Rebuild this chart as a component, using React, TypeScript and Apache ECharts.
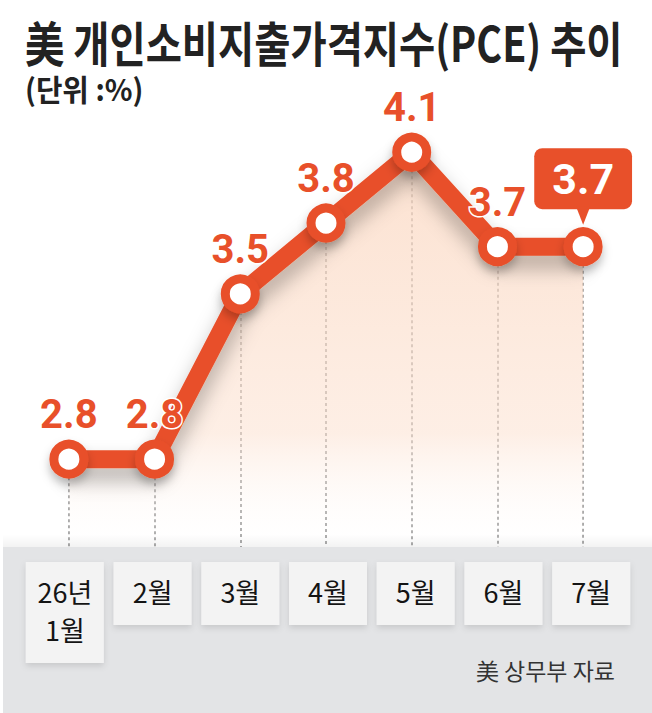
import React, { useEffect, useRef } from "react";
import * as echarts from "echarts";

// months shown in the label boxes
const categories = ["26년\n1월", "2월", "3월", "4월", "5월", "6월", "7월"];
// PCE year-on-year (%)
const pceValues = [2.8, 2.8, 3.5, 3.8, 4.1, 3.7, 3.7];

const titleText = "美 개인소비지출가격지수(PCE) 추이";
const unitText = "(단위 :%)";
const sourceText = "美 상무부 자료";

const ORANGE = "#e8502a";
const Y_MIN = 2.4;
const Y_MAX = 4.4;

const App: React.FC = () => {
  const chartRef = useRef<HTMLDivElement>(null);

  useEffect(() => {
    document.body.style.margin = "0";
    const chart = echarts.init(chartRef.current!, undefined, { renderer: "svg" });
    const last = pceValues.length - 1;

    const seriesData = pceValues.map((v, i) =>
      i === last
        ? {
            value: v,
            label: {
              backgroundColor: ORANGE,
              color: "#fff",
              borderRadius: 8,
              padding: [8, 18],
              fontSize: 43,
              lineHeight: 45,
              distance: 18,
              textBorderWidth: 0
            }
          }
        : v
    );

    const option: echarts.EChartsOption = {
      animation: false,
      backgroundColor: "#fff",
      grid: [
        { left: 26, right: 26, top: 81.4, bottom: 159.4 },
        { left: 21, right: 17, top: 500, bottom: 166 }
      ],
      xAxis: [
        {
          type: "category",
          gridIndex: 0,
          data: categories,
          show: false
        },
        {
          type: "category",
          gridIndex: 1,
          data: categories,
          z: 60,
          axisLine: { show: false },
          axisTick: { show: false },
          axisLabel: {
            margin: 15,
            color: "#141414",
            fontSize: 27,
            fontFamily: "Noto Sans CJK KR",
            lineHeight: 38,
            width: 78,
            align: "center",
            padding: [10, 0, 15, 0],
            backgroundColor: "#f3f3f3",
            shadowBlur: 6,
            shadowColor: "rgba(0,0,0,0.12)",
            shadowOffsetY: 3
          }
        }
      ],
      yAxis: [
        { type: "value", gridIndex: 0, min: Y_MIN, max: Y_MAX, show: false },
        { type: "value", gridIndex: 1, show: false }
      ],
      graphic: [
        {
          type: "text",
          x: 25,
          y: 41,
          scaleX: 0.82,
          style: {
            text: titleText,
            fontSize: 48,
            fontWeight: "bold",
            fontFamily: "Noto Sans CJK KR",
            fill: "#222",
            verticalAlign: "middle"
          }
        },
        {
          type: "text",
          x: 25,
          y: 88,
          scaleX: 0.96,
          style: {
            text: unitText,
            fontSize: 30,
            fontWeight: "bold",
            fontFamily: "Noto Sans CJK KR",
            fill: "#222",
            verticalAlign: "middle"
          }
        },
        {
          type: "rect",
          z: 50,
          shape: { x: 3, y: 534, width: 649, height: 13 },
          style: {
            fill: new echarts.graphic.LinearGradient(0, 0, 0, 1, [
              { offset: 0, color: "rgba(0,0,0,0)" },
              { offset: 1, color: "rgba(0,0,0,0.05)" }
            ])
          }
        },
        {
          type: "rect",
          z: 50,
          shape: { x: 3, y: 547, width: 649, height: 166 },
          style: { fill: "#e3e4e6" }
        },
        {
          type: "text",
          z: 60,
          x: 615,
          y: 670,
          style: {
            text: sourceText,
            fontSize: 23,
            fontFamily: "Noto Sans CJK KR",
            fill: "#333",
            align: "right",
            verticalAlign: "middle"
          }
        }
      ],
      series: [
        {
          type: "line",
          xAxisIndex: 0,
          yAxisIndex: 0,
          data: seriesData,
          symbol: "circle",
          symbolSize: 30,
          lineStyle: {
            color: ORANGE,
            width: 18,
            shadowBlur: 20,
            shadowColor: "rgba(0,0,0,0.3)",
            shadowOffsetY: 12
          },
          itemStyle: {
            color: "#fff",
            borderColor: ORANGE,
            borderWidth: 9,
            shadowBlur: 10,
            shadowColor: "rgba(0,0,0,0.25)",
            shadowOffsetY: 6
          },
          areaStyle: {
            origin: "start",
            opacity: 1,
            color: new echarts.graphic.LinearGradient(0, 0, 0, 1, [
              { offset: 0, color: "rgba(251,215,192,0.75)" },
              { offset: 0.7, color: "rgba(252,225,208,0.55)" },
              { offset: 1, color: "rgba(255,255,255,0)" }
            ])
          },
          label: {
            show: true,
            position: "top",
            distance: 5,
            fontSize: 40,
            fontWeight: "bold",
            fontFamily: "Roboto",
            color: ORANGE,
            textBorderColor: "#fff",
            textBorderWidth: 3
          },
          markLine: {
            silent: true,
            z: 1,
            symbol: "none",
            label: { show: false },
            lineStyle: { color: "#8c8c8c", width: 1.5, type: [3, 3] },
            data: pceValues.map((v, i) => [
              { coord: [categories[i], v] },
              { coord: [categories[i], Y_MIN] }
            ]) as any
          },
          markPoint: {
            silent: true,
            symbol: "triangle",
            symbolRotate: 180,
            symbolSize: [14, 18],
            symbolOffset: [0, -31],
            itemStyle: { color: ORANGE },
            label: { show: false },
            data: [{ coord: [categories[last], pceValues[last]] }]
          }
        }
      ]
    };

    chart.setOption(option);

    return () => {
      chart.dispose();
    };
  }, []);

  return <div ref={chartRef} style={{ width: "652px", height: "713px" }} />;
};

export default App;
